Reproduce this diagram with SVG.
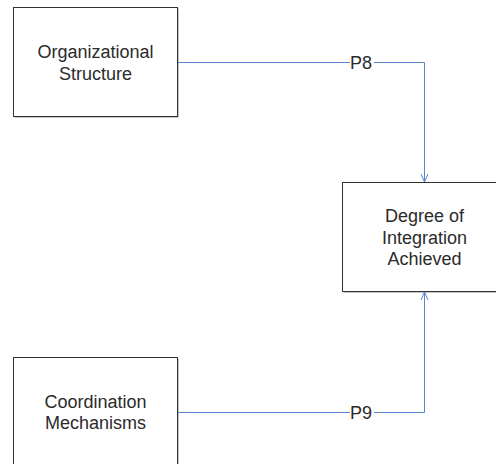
<svg xmlns="http://www.w3.org/2000/svg" width="496" height="464" viewBox="0 0 496 464">
  <defs>
    <marker id="arrow" markerWidth="10" markerHeight="10" refX="9" refY="5" orient="auto" markerUnits="userSpaceOnUse" viewBox="0 0 10 10">
      <path d="M1,1.5 L9,5 L1,8.5" fill="none" stroke="#5a86cf" stroke-width="1"/>
    </marker>
  </defs>
  <style>
    .box { fill: #ffffff; stroke: #333333; stroke-width: 1; }
    .shadow { fill: #8a8a8a; }
    .label { font-family: "Liberation Sans", Arial, sans-serif; font-size: 18px; fill: #2b2b2b; text-anchor: middle; }
    .edge { fill: none; stroke: #5a86cf; stroke-width: 1; }
    .tag { font-family: "Liberation Sans", Arial, sans-serif; font-size: 18px; fill: #2b2b2b; text-anchor: middle; }
    .tagbg { fill: #ffffff; }
  </style>
  <rect width="496" height="464" fill="#ffffff"/>

  <g id="connectors">
    <path class="edge" d="M177.5,62.5 H424.5 V182" marker-end="url(#arrow)"/>
    <path class="edge" d="M177.5,412.5 H424.5 V292" marker-end="url(#arrow)"/>
    <rect class="tagbg" x="350" y="54" width="24" height="17"/>
    <text class="tag" x="361" y="68.5">P8</text>
    <rect class="tagbg" x="350" y="404" width="24" height="17"/>
    <text class="tag" x="361" y="418.5">P9</text>
  </g>

  <g id="organizational-structure">
    <rect class="shadow" x="14.5" y="8.5" width="164" height="109"/>
    <rect class="box" x="13.5" y="7.5" width="164" height="109"/>
    <text class="label" x="95.5" y="58">Organizational</text>
    <text class="label" x="95.5" y="79.5">Structure</text>
  </g>

  <g id="degree-of-integration">
    <rect class="shadow" x="343.5" y="183.5" width="164" height="109"/>
    <rect class="box" x="342.5" y="182.5" width="164" height="109"/>
    <text class="label" x="424.5" y="222">Degree of</text>
    <text class="label" x="424.5" y="243.5">Integration</text>
    <text class="label" x="424.5" y="265">Achieved</text>
  </g>

  <g id="coordination-mechanisms">
    <rect class="shadow" x="14.5" y="358.5" width="164" height="109"/>
    <rect class="box" x="13.5" y="357.5" width="164" height="109"/>
    <text class="label" x="95.5" y="407.5">Coordination</text>
    <text class="label" x="95.5" y="429">Mechanisms</text>
  </g>
</svg>
